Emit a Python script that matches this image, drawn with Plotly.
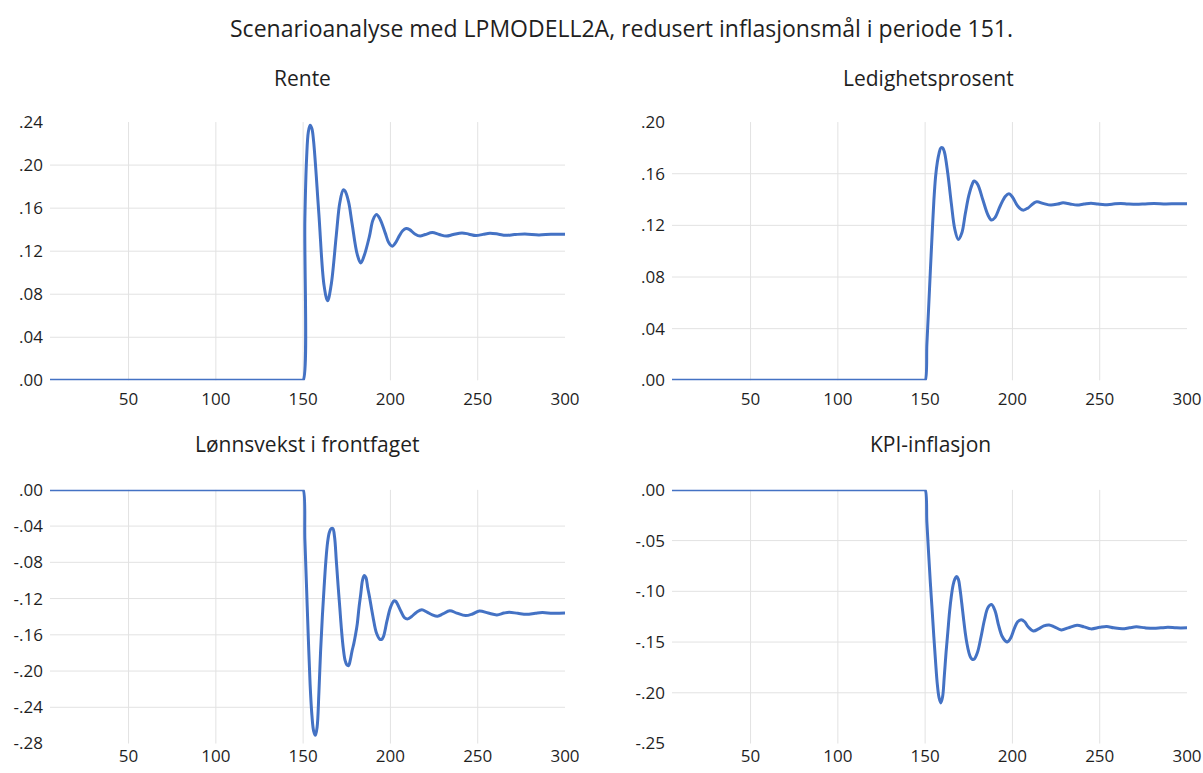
import plotly.graph_objects as go

# ---- Data: scenario responses per period (deviation from baseline) ----
rente_periode = [5, 149, 150, 151, 152, 153, 154, 155, 156, 159, 162, 164, 166, 169, 171, 173, 174,
                 176, 178, 181, 183, 185, 188, 190, 192, 194, 197, 199, 201, 203, 205, 207, 209, 211,
                 214, 217, 220, 224, 228, 232, 236, 241, 245, 249, 253, 257, 262, 266, 271, 277, 285,
                 292, 300]
rente_verdi = [0, 0, 0, 0.150, 0.207, 0.231, 0.237, 0.234, 0.222, 0.155, 0.088, 0.074, 0.088, 0.135,
               0.165, 0.177, 0.176, 0.166, 0.146, 0.117, 0.109, 0.116, 0.134, 0.149, 0.154, 0.150,
               0.137, 0.128, 0.1246, 0.128, 0.134, 0.139, 0.141, 0.140, 0.136, 0.134, 0.1355,
               0.1373, 0.1355, 0.134, 0.1355, 0.137, 0.1358, 0.1345, 0.1356, 0.1367, 0.1358,
               0.1348, 0.1354, 0.136, 0.1351, 0.1357, 0.1357]

ledighet_periode = [5, 149, 150, 151, 152, 153, 154, 155, 156, 157, 158, 159, 160, 161, 163, 165, 167,
                    169, 171, 173, 175, 177, 178, 180, 183, 186, 188, 190, 193, 196, 198, 200, 203,
                    206, 209, 212, 214, 218, 222, 226, 229, 233, 237, 241, 245, 249, 253, 257, 262,
                    266, 271, 276, 281, 288, 294, 300]
ledighet_verdi = [0, 0, 0, 0.028, 0.056, 0.085, 0.113, 0.139, 0.158, 0.169, 0.176, 0.180, 0.180,
                  0.177, 0.160, 0.137, 0.117, 0.109, 0.114, 0.129, 0.143, 0.152, 0.1543, 0.152,
                  0.140, 0.128, 0.1241, 0.126, 0.135, 0.1425, 0.1444, 0.142, 0.135, 0.1318,
                  0.1335, 0.137, 0.1382, 0.1368, 0.1357, 0.1365, 0.1375, 0.1366, 0.1357, 0.1365,
                  0.1372, 0.1365, 0.1360, 0.1364, 0.1370, 0.1366, 0.1363, 0.1366, 0.1369, 0.1366,
                  0.1368, 0.1367]

lonn_periode = [5, 149, 150, 151, 152, 153, 154, 155, 156, 157, 158, 159, 160, 161, 162, 163, 164,
                165, 166, 167, 168, 169, 170, 171, 172, 173, 174, 175, 176, 177, 178, 179, 180, 181,
                182, 183, 184, 185, 186, 187, 188, 190, 192, 194, 195, 196, 198, 200, 202, 203, 206,
                208, 210, 212, 215, 218, 221, 224, 227, 230, 234, 238, 243, 247, 251, 256, 261, 265,
                268, 273, 278, 283, 287, 293, 300]
lonn_verdi = [0, 0, 0, -0.055, -0.110, -0.165, -0.215, -0.248, -0.266, -0.271, -0.262, -0.225,
              -0.178, -0.140, -0.108, -0.079, -0.058, -0.047, -0.043, -0.0427, -0.052, -0.078,
              -0.105, -0.130, -0.155, -0.175, -0.188, -0.193, -0.194, -0.188, -0.178, -0.170,
              -0.160, -0.148, -0.130, -0.115, -0.100, -0.0946, -0.097, -0.108, -0.118, -0.140,
              -0.158, -0.165, -0.165, -0.162, -0.145, -0.130, -0.1225, -0.123, -0.134, -0.141,
              -0.1424, -0.140, -0.135, -0.1323, -0.135, -0.138, -0.1395, -0.137, -0.1334, -0.136,
              -0.1388, -0.137, -0.1337, -0.136, -0.138, -0.136, -0.1351, -0.1363, -0.1373,
              -0.1362, -0.1355, -0.1362, -0.136]

kpi_periode = [5, 149, 150, 151, 152, 153, 154, 155, 156, 157, 158, 159, 160, 161, 162, 163, 164,
               165, 166, 167, 168, 169, 170, 171, 172, 173, 174, 175, 176, 177, 178, 180, 182, 184,
               186, 188, 190, 192, 194, 196, 197, 199, 201, 203, 205, 207, 209, 212, 215, 218, 221,
               224, 228, 232, 237, 241, 245, 250, 254, 258, 263, 267, 271, 276, 281, 285, 289, 294,
               300]
kpi_verdi = [0, 0, 0, -0.032, -0.063, -0.092, -0.118, -0.145, -0.170, -0.192, -0.205, -0.210,
             -0.204, -0.183, -0.160, -0.140, -0.120, -0.105, -0.094, -0.088, -0.0855, -0.088,
             -0.098, -0.112, -0.127, -0.141, -0.152, -0.160, -0.165, -0.167, -0.167, -0.160,
             -0.145, -0.128, -0.116, -0.113, -0.119, -0.133, -0.144, -0.149, -0.150, -0.146,
             -0.137, -0.130, -0.128, -0.130, -0.135, -0.139, -0.137, -0.134, -0.1331, -0.135,
             -0.138, -0.136, -0.1334, -0.135, -0.137, -0.1355, -0.1347, -0.136, -0.137, -0.136,
             -0.135, -0.136, -0.1365, -0.136, -0.1355, -0.136, -0.136]

# ---- Axis ticks ----
x_ticks = [50, 100, 150, 200, 250, 300]
x_ticktext = ["50", "100", "150", "200", "250", "300"]
x_grid = [50, 100, 150, 200, 250]

rente_ticks = [0.0, 0.04, 0.08, 0.12, 0.16, 0.20, 0.24]
rente_ticktext = [".00", ".04", ".08", ".12", ".16", ".20", ".24"]
ledighet_ticks = [0.0, 0.04, 0.08, 0.12, 0.16, 0.20]
ledighet_ticktext = [".00", ".04", ".08", ".12", ".16", ".20"]
lonn_ticks = [0.0, -0.04, -0.08, -0.12, -0.16, -0.20, -0.24, -0.28]
lonn_ticktext = [".00", "-.04", "-.08", "-.12", "-.16", "-.20", "-.24", "-.28"]
kpi_ticks = [0.0, -0.05, -0.10, -0.15, -0.20, -0.25]
kpi_ticktext = [".00", "-.05", "-.10", "-.15", "-.20", "-.25"]

title_text = "Scenarioanalyse med LPMODELL2A, redusert inflasjonsmål i periode 151."
panel_titles = ["Rente", "Ledighetsprosent", "Lønnsvekst i frontfaget", "KPI-inflasjon"]

# ---- Layout geometry (pixel positions converted to paper fractions) ----
PAPER_W, PAPER_H, PAPER_TOP = 1188.0, 751.0, 10.5
FONT = "Open Sans"
LINE_COLOR = "#4472C4"
GRID_COLOR = "#e2e2e2"
TEXT_COLOR = "#1f1f1f"


def fx(px):
    return px / PAPER_W


def fy(py):
    return 1 - (py - PAPER_TOP) / PAPER_H


col_x = [(50, 565), (672, 1187)]          # left/right pixel edges of the two columns
row_y = [(120.7, 379.3), (489.0, 743.0)]  # top/bottom pixel edges of the two rows
row_title_y = [77, 443]
title_center_x = [302.5, 928, 307, 930]   # horizontal centre of each panel title
row_standoff = [7, 0]
x_range = [5, 300]

panels = [
    (rente_periode, rente_verdi, rente_ticks, rente_ticktext, 0, 0),
    (ledighet_periode, ledighet_verdi, ledighet_ticks, ledighet_ticktext, 0, 1),
    (lonn_periode, lonn_verdi, lonn_ticks, lonn_ticktext, 1, 0),
    (kpi_periode, kpi_verdi, kpi_ticks, kpi_ticktext, 1, 1),
]

fig = go.Figure()
layout = dict(
    width=1203, height=773,
    margin=dict(l=0, r=0, t=0, b=0),
    paper_bgcolor="white", plot_bgcolor="white",
    showlegend=False,
    font=dict(family=FONT, color=TEXT_COLOR),
)
shapes = []
annotations = []

for i, (px, py, yt, ytt, r, c) in enumerate(panels, start=1):
    suffix = "" if i == 1 else str(i)
    xa, ya = "x" + suffix, "y" + suffix
    fig.add_trace(go.Scatter(
        x=px, y=py, mode="lines", xaxis=xa, yaxis=ya,
        line=dict(color=LINE_COLOR, width=3, shape="spline", smoothing=1.0),
        hoverinfo="skip",
    ))
    x0p, x1p = col_x[c]
    y0p, y1p = row_y[r]
    ymin, ymax = min(yt), max(yt)
    layout["xaxis" + suffix] = dict(
        domain=[fx(x0p), fx(x1p)], range=x_range, anchor=ya,
        tickvals=x_ticks, ticktext=x_ticktext, ticks="",
        showgrid=False, zeroline=False, showline=False,
        tickfont=dict(family=FONT, size=17, color=TEXT_COLOR),
        ticklabelstandoff=row_standoff[r],
    )
    layout["yaxis" + suffix] = dict(
        domain=[fy(y1p), fy(y0p)], range=[ymin, ymax], anchor=xa,
        tickvals=yt, ticktext=ytt, ticks="",
        showgrid=False, zeroline=False, showline=False,
        tickfont=dict(family=FONT, size=17, color=TEXT_COLOR),
        ticklabelstandoff=6,
    )
    # interior horizontal gridlines
    for v in yt:
        if ymin < v < ymax:
            shapes.append(dict(type="line", layer="below",
                               xref=xa + " domain", x0=0, x1=1, yref=ya, y0=v, y1=v,
                               line=dict(color=GRID_COLOR, width=1)))
    # vertical gridlines
    for v in x_grid:
        shapes.append(dict(type="line", layer="below",
                           xref=xa, x0=v, x1=v, yref=ya + " domain", y0=0, y1=1,
                           line=dict(color=GRID_COLOR, width=1)))
    # panel title
    annotations.append(dict(
        text=panel_titles[i - 1], xref="paper", yref="paper",
        x=fx(title_center_x[i - 1]), y=fy(row_title_y[r]),
        xanchor="center", yanchor="middle", showarrow=False,
        font=dict(family=FONT, size=21, color=TEXT_COLOR),
    ))

annotations.append(dict(
    text=title_text, xref="paper", yref="paper",
    x=fx(621), y=fy(27), xanchor="center", yanchor="middle", showarrow=False,
    font=dict(family=FONT, size=23, color=TEXT_COLOR),
))

layout["shapes"] = shapes
layout["annotations"] = annotations
fig.update_layout(**layout)

fig.write_html("out.html", config={"displayModeBar": False})
